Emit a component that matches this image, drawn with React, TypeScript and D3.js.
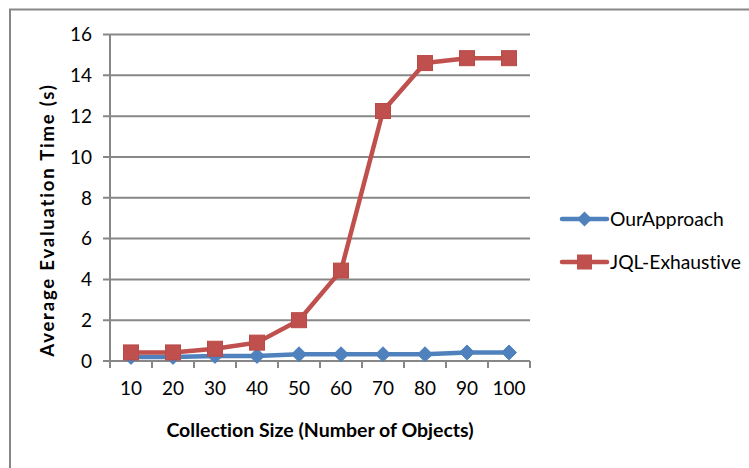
import React from "react";
import * as d3 from "d3";

const categories = ["10", "20", "30", "40", "50", "60", "70", "80", "90", "100"];
const ourApproach = [0.2, 0.2, 0.25, 0.25, 0.33, 0.33, 0.33, 0.33, 0.42, 0.42];
const jqlExhaustive = [0.42, 0.42, 0.6, 0.9, 2.0, 4.43, 12.25, 14.6, 14.84, 14.84];
const yTicks = [0, 2, 4, 6, 8, 10, 12, 14, 16];
const seriesNames = ["OurApproach", "JQL-Exhaustive"];

const W = 749;
const H = 468;
const plot = { left: 110, right: 530, top: 34.5, bottom: 361 };
const font = "Lato, 'Open Sans', sans-serif";
const grid = "#878787";
const blue = "#4F81BD";
const red = "#C0504D";

export default function App() {
  const x = d3.scaleBand().domain(categories).range([plot.left, plot.right]);
  const y = d3.scaleLinear().domain([0, 16]).range([plot.bottom, plot.top]);
  const cx = (c: string) => (x(c) as number) + x.bandwidth() / 2;
  const line = d3
    .line<number>()
    .x((_, i) => cx(categories[i]))
    .y((d) => y(d));

  const diamond = (px: number, py: number, r: number) =>
    `M${px},${py - r}L${px + r},${py}L${px},${py + r}L${px - r},${py}Z`;

  const legendY = [219, 262];

  return (
    <svg
      width={W}
      height={H}
      style={{
        position: "absolute",
        left: 0,
        top: 0,
        background: "#fff",
        fontVariantLigatures: "none",
        fontFeatureSettings: '"liga" 0, "clig" 0',
      }}
    >
      {/* outer frame */}
      <path d={`M10,${H + 5}V9.5H${W + 5}`} fill="none" stroke={grid} strokeWidth={2} />

      {/* gridlines */}
      {yTicks.map((t) => (
        <line
          key={t}
          x1={plot.left - 7}
          x2={plot.right}
          y1={y(t)}
          y2={y(t)}
          stroke={grid}
          strokeWidth={2}
        />
      ))}
      {/* y axis */}
      <line x1={plot.left} x2={plot.left} y1={plot.top} y2={plot.bottom + 7} stroke={grid} strokeWidth={2} />
      {/* x ticks */}
      {categories.map((c) => (
        <line
          key={c}
          x1={(x(c) as number) + x.bandwidth()}
          x2={(x(c) as number) + x.bandwidth()}
          y1={plot.bottom}
          y2={plot.bottom + 7}
          stroke={grid}
          strokeWidth={2}
        />
      ))}

      {/* y tick labels */}
      {yTicks.map((t) => (
        <text
          key={t}
          x={92}
          y={y(t)}
          dy="0.36em"
          textAnchor="end"
          fontFamily={font}
          fontSize={19}
          fill="#000"
        >
          {t}
        </text>
      ))}
      {/* x tick labels */}
      {categories.map((c) => (
        <text
          key={c}
          x={cx(c)}
          y={395}
          textAnchor="middle"
          fontFamily={font}
          fontSize={19}
          fill="#000"
        >
          {c}
        </text>
      ))}

      {/* axis titles */}
      <text
        x={320}
        y={437}
        textAnchor="middle"
        fontFamily={font}
        fontSize={19.5}
        fontWeight="bold"
        fill="#000"
      >
        Collection Size (Number of Objects)
      </text>
      <text
        transform="translate(54,220) rotate(-90)"
        textAnchor="middle"
        fontFamily={font}
        fontSize={18.5}
        fontWeight="bold"
        letterSpacing={1.8}
        fill="#000"
      >
        Average Evaluation Time (s)
      </text>

      {/* series: OurApproach */}
      <path d={line(ourApproach) || ""} fill="none" stroke={blue} strokeWidth={4.5} strokeLinejoin="round" />
      {ourApproach.map((v, i) => (
        <path key={i} d={diamond(cx(categories[i]), y(v), 7.5)} fill={blue} stroke={blue} strokeWidth={1} />
      ))}

      {/* series: JQL-Exhaustive */}
      <path d={line(jqlExhaustive) || ""} fill="none" stroke={red} strokeWidth={4.5} strokeLinejoin="round" />
      {jqlExhaustive.map((v, i) => (
        <rect
          key={i}
          x={cx(categories[i]) - 7.5}
          y={y(v) - 7.5}
          width={15}
          height={15}
          fill={red}
          stroke="#B84A47"
          strokeWidth={1}
        />
      ))}

      {/* legend */}
      {seriesNames.map((name, i) => {
        const ly = legendY[i];
        const color = i === 0 ? blue : red;
        const mx = 584.5;
        return (
          <g key={name}>
            <line x1={562} x2={607} y1={ly} y2={ly} stroke={color} strokeWidth={4.5} strokeLinecap="round" />
            {i === 0 ? (
              <path d={diamond(mx, ly, 7.5)} fill={color} />
            ) : (
              <rect x={mx - 7.5} y={ly - 7.5} width={15} height={15} fill={color} />
            )}
            <text
              x={610}
              y={ly}
              dy="0.36em"
              fontFamily={font}
              fontSize={19.3}
              fill="#000"
            >
              {name}
            </text>
          </g>
        );
      })}
    </svg>
  );
}
